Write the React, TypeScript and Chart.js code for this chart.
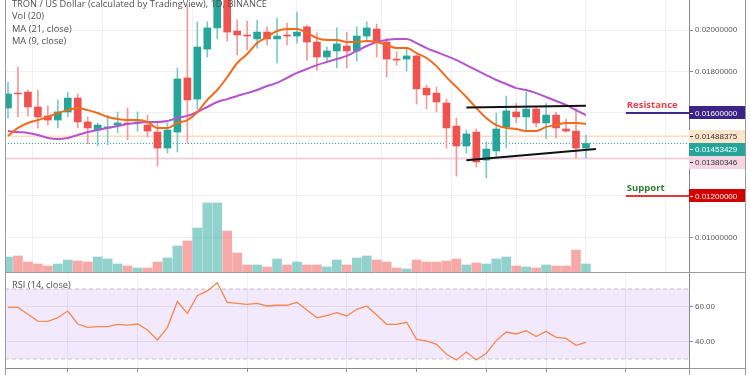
import { useEffect, useRef } from 'react';
import { Chart, registerables } from 'chart.js';
Chart.register(...registerables);

// ---- data (TRX/USD daily) ----
const open = [
  0.01624, 0.01696, 0.01701, 0.01629, 0.01586, 0.01566, 0.01605, 0.01672, 0.01557, 0.01518,
  0.01528, 0.01542, 0.01552, 0.01552, 0.01542, 0.01508, 0.01431, 0.01508, 0.01769, 0.01667,
  0.01908, 0.0201, 0.0216, 0.01995, 0.01976, 0.01957, 0.0199, 0.01957, 0.01976, 0.01971,
  0.02015, 0.01942, 0.0187, 0.01899, 0.01923, 0.01899, 0.01971, 0.02005, 0.01942, 0.0186,
  0.0186, 0.01875, 0.0172, 0.01696, 0.01648, 0.01537, 0.01441, 0.01508, 0.01373, 0.01417,
  0.01533, 0.01605, 0.01581, 0.01619, 0.01552, 0.0159, 0.01523, 0.01513, 0.01431,
];
const high = [
  0.01749, 0.01821, 0.01711, 0.01711, 0.01634, 0.01663, 0.01701, 0.01692, 0.01581, 0.01552,
  0.0159, 0.01605, 0.01624, 0.01605, 0.0159, 0.01557, 0.01552, 0.01817, 0.02121, 0.02039,
  0.0204, 0.0222, 0.0219, 0.02048, 0.02043, 0.02048, 0.02015, 0.02058, 0.02034, 0.02087,
  0.02024, 0.01986, 0.01918, 0.0201, 0.0199, 0.02015, 0.02039, 0.02029, 0.01961, 0.01894,
  0.01918, 0.0188, 0.01735, 0.01725, 0.01667, 0.01576, 0.01518, 0.01523, 0.0146, 0.016,
  0.01682, 0.01648, 0.01701, 0.01629, 0.01648, 0.01605, 0.01571, 0.01624, 0.01494,
];
const low = [
  0.01576, 0.01581, 0.01586, 0.01528, 0.01542, 0.01528, 0.01581, 0.01528, 0.01451, 0.01441,
  0.01446, 0.01504, 0.0147, 0.01513, 0.01484, 0.01344, 0.01407, 0.01412, 0.01455, 0.01619,
  0.0187, 0.01957, 0.01947, 0.0188, 0.01904, 0.01913, 0.01928, 0.01841, 0.01928, 0.01937,
  0.01855, 0.01807, 0.0185, 0.01817, 0.01817, 0.0185, 0.01942, 0.0187, 0.01773, 0.01831,
  0.01802, 0.01643, 0.01619, 0.01605, 0.01431, 0.01296, 0.01407, 0.0134, 0.01287, 0.01388,
  0.01431, 0.01552, 0.01518, 0.01533, 0.01475, 0.0148, 0.01508, 0.01383, 0.01383,
];
const close = [
  0.01692, 0.01692, 0.01629, 0.01581, 0.01566, 0.01605, 0.01672, 0.01557, 0.01528, 0.01542,
  0.01533, 0.01552, 0.01547, 0.01557, 0.01513, 0.01431, 0.01518, 0.01764, 0.01663, 0.01918,
  0.0201, 0.0216, 0.0199, 0.01976, 0.01971, 0.0199, 0.01957, 0.01971, 0.01971, 0.0199,
  0.01942, 0.0187, 0.01899, 0.01933, 0.01899, 0.01971, 0.0201, 0.01942, 0.0186, 0.01855,
  0.01875, 0.01716, 0.01687, 0.01653, 0.01528, 0.01441, 0.01499, 0.01364, 0.01426, 0.01523,
  0.0161, 0.01581, 0.01619, 0.01552, 0.0159, 0.01528, 0.01513, 0.01431, 0.01453,
];
const volumeM = [
  375, 400, 250, 200, 150, 200, 300, 275, 250, 375,
  325, 200, 150, 100, 100, 250, 350, 650, 775, 1100,
  1725, 1725, 1025, 475, 175, 175, 125, 325, 175, 250,
  175, 175, 125, 300, 175, 350, 400, 300, 250, 100,
  75, 300, 250, 250, 275, 325, 175, 225, 200, 325,
  375, 150, 125, 100, 175, 150, 150, 550, 200,
];
const ma9 = [
  0.01489, 0.01528, 0.01552, 0.01566, 0.01581, 0.016, 0.01614, 0.01624, 0.01614, 0.016,
  0.01581, 0.01571, 0.01566, 0.01566, 0.01557, 0.01528, 0.01528, 0.01552, 0.01566, 0.01605,
  0.01663, 0.01711, 0.01773, 0.01841, 0.01884, 0.01937, 0.01966, 0.01995, 0.02005, 0.02005,
  0.01986, 0.01961, 0.01952, 0.01952, 0.01942, 0.01942, 0.01947, 0.01942, 0.01928, 0.01913,
  0.01913, 0.01889, 0.01865, 0.01826, 0.01773, 0.01725, 0.01677, 0.01624, 0.01576, 0.01542,
  0.01528, 0.01523, 0.01513, 0.01513, 0.01533, 0.01542, 0.01552, 0.01552, 0.01547,
];
const ma21 = [
  0.01513, 0.01508, 0.01504, 0.01494, 0.0148, 0.01475, 0.0148, 0.01494, 0.01508, 0.01518,
  0.01528, 0.01537, 0.01547, 0.01552, 0.01557, 0.01557, 0.01561, 0.01576, 0.01586, 0.01605,
  0.01629, 0.01653, 0.01667, 0.01682, 0.01696, 0.01711, 0.0173, 0.01745, 0.01769, 0.01793,
  0.01812, 0.01831, 0.01846, 0.0186, 0.01875, 0.01899, 0.01923, 0.01942, 0.01952, 0.01957,
  0.01957, 0.01937, 0.01913, 0.01894, 0.01875, 0.01855, 0.01831, 0.01807, 0.01783, 0.01759,
  0.0174, 0.0172, 0.01711, 0.01696, 0.01677, 0.01658, 0.01639, 0.01614, 0.0159,
];
const rsi14 = [
  59.5, 59.5, 55.6, 51.7, 51.5, 53.6, 57.4, 50.0, 48.1, 48.5,
  48.5, 49.8, 49.4, 50.0, 46.6, 40.9, 48.1, 62.8, 56.1, 66.2,
  68.9, 73.6, 62.4, 61.8, 61.2, 61.8, 60.3, 60.7, 60.7, 62.4,
  58.0, 53.6, 54.8, 56.5, 54.6, 58.4, 60.3, 55.1, 49.8, 49.8,
  51.0, 41.2, 40.3, 38.4, 32.7, 29.4, 34.0, 29.4, 33.3, 40.5,
  45.4, 44.3, 46.2, 42.8, 45.8, 42.4, 41.8, 37.8, 39.5,
];
const gridDays = [7, 14, 25, 35, 42, 49, 55, 63];
const priceTicks = [0.01, 0.012, 0.016, 0.018, 0.02];
const rsiTicks = [40, 60];
const rsiBand = [70, 30];
const resistance = 0.016;
const support = 0.012;
const levelHigh = 0.01488375;
const lastPrice = 0.01453429;
const levelLow = 0.01380346;
const trendUpper = [[47, 0.01626], [59, 0.01635]];
const trendLower = [[47, 0.01372], [60, 0.01426]];
const levelStart = 63;
const xMin = 0.7;
const xMax = 69.34;
const priceMin = 0.0083362;
const priceMax = 0.0214466;
const volMax = 6800;
const rsiMin = 24.86;
const rsiMax = 79.14;

// ---- styling ----
const UP = '#26a69a';
const DOWN = '#ef5350';
const GRID = '#edf1f5';
const AXIS = '#8a8a8a';
const LABEL_FONT = { family: 'Liberation Sans', size: 8 };
const TEXT_FONT = '9.3px "Open Sans"';

const xs = close.map((_, i) => i + 1);
const isUp = close.map((c, i) => c >= open[i]);
const hLine = (y: number, x0 = xMin, x1 = xMax) => [{ x: x0, y }, { x: x1, y }];

function xAxis(height: number, tickLen: number, border: boolean) {
  return {
    type: 'linear',
    min: xMin,
    max: xMax,
    offset: false,
    afterBuildTicks: (s: any) => { s.ticks = gridDays.map((v) => ({ value: v })); },
    afterFit: (s: any) => { s.height = height; s.paddingLeft = 0; s.paddingRight = 0; },
    ticks: { display: false },
    grid: { color: GRID, drawTicks: tickLen > 0, tickLength: tickLen, tickColor: AXIS },
    border: { display: border, color: AXIS },
  };
}

const framePlugin = (isTop: boolean) => ({
  id: 'frame' + (isTop ? 'A' : 'B'),
  afterDraw(chart: any) {
    const ctx = chart.ctx;
    const H = chart.height;
    ctx.save();
    ctx.strokeStyle = '#9a9a9a';
    ctx.lineWidth = 1;
    ctx.beginPath();
    ctx.moveTo(5.5, 0); ctx.lineTo(5.5, H);
    ctx.moveTo(745.5, 0); ctx.lineTo(745.5, H);
    if (!isTop) {
      ctx.moveTo(5, 0.5); ctx.lineTo(746, 0.5);
      const b = chart.chartArea.bottom;
      ctx.moveTo(689.5, b); ctx.lineTo(689.5, H);
      ctx.moveTo(689, b + 0.5); ctx.lineTo(746, b + 0.5);
    }
    ctx.stroke();
    ctx.restore();
  },
});

const textPluginA = {
  id: 'textA',
  afterDraw(chart: any) {
    const ctx = chart.ctx;
    const ys = chart.scales.y;
    const xsS = chart.scales.x;
    ctx.save();
    ctx.textBaseline = 'middle';
    ctx.textAlign = 'left';
    ctx.font = TEXT_FONT;
    ctx.fillStyle = '#505050';
    ctx.fillText('TRON / US Dollar (calculated by TradingView), 1D, BINANCE', 12, 4);
    ctx.fillText('Vol (20)', 12, 16.5);
    ctx.fillText('MA (21, close)', 12, 29);
    ctx.fillText('MA (9, close)', 12, 41.5);

    const lx = xsS.getPixelForValue(levelStart) + 1;
    ctx.font = 'bold 9.5px "Open Sans"';
    ctx.fillStyle = '#e3424a';
    ctx.fillText('Resistance', lx, ys.getPixelForValue(resistance) - 8);
    ctx.fillStyle = '#2e7d32';
    ctx.fillText('Support', lx, ys.getPixelForValue(support) - 8);

    // price labels on the axis
    const boxes = [
      { v: resistance, bg: '#3b2485', fg: '#ffffff' },
      { v: levelHigh, bg: '#fde4cc', fg: '#333333' },
      { v: lastPrice, bg: UP, fg: '#ffffff' },
      { v: levelLow, bg: '#f3d6e2', fg: '#333333' },
      { v: support, bg: '#d50000', fg: '#ffffff' },
    ];
    let prev = -100;
    ctx.font = `${LABEL_FONT.size}px "${LABEL_FONT.family}"`;
    boxes.forEach((b) => {
      let y = ys.getPixelForValue(b.v);
      if (y < prev + 13) y = prev + 13;
      prev = y;
      ctx.fillStyle = b.bg;
      ctx.fillRect(689, Math.round(y - 6.5), 56, 13);
      ctx.strokeStyle = b.fg;
      ctx.beginPath();
      ctx.moveTo(690, Math.round(y) + 0.5);
      ctx.lineTo(693, Math.round(y) + 0.5);
      ctx.stroke();
      ctx.fillStyle = b.fg;
      ctx.fillText(b.v.toFixed(8), 695, y + 0.5);
    });
    ctx.restore();
  },
};

const textPluginB = {
  id: 'textB',
  afterDraw(chart: any) {
    const ctx = chart.ctx;
    ctx.save();
    ctx.textBaseline = 'middle';
    ctx.font = TEXT_FONT;
    ctx.fillStyle = '#505050';
    ctx.fillText('RSI (14, close)', 12, 13.7);
    ctx.restore();
  },
};

export default function App() {
  const refA = useRef<HTMLCanvasElement>(null);
  const refB = useRef<HTMLCanvasElement>(null);

  useEffect(() => {
    document.body.style.margin = '0';
    const lineBase = { type: 'line', pointRadius: 0, fill: false, yAxisID: 'y' };
    const chartA = new Chart(refA.current as HTMLCanvasElement, {
      type: 'bar',
      data: {
        datasets: [
          {
            type: 'bar', label: 'Volume', yAxisID: 'vol', order: 10, grouped: false, barThickness: 9,
            data: xs.map((x, i) => ({ x, y: volumeM[i] })),
            backgroundColor: isUp.map((u) => (u ? 'rgba(38,166,154,0.5)' : 'rgba(239,83,80,0.5)')),
          },
          { ...lineBase, label: 'L1', order: 9, data: hLine(levelHigh), borderColor: '#fcdcbd', borderWidth: 1.5 },
          { ...lineBase, label: 'L2', order: 9, data: hLine(lastPrice), borderColor: UP, borderWidth: 1, borderDash: [1, 2] },
          { ...lineBase, label: 'L3', order: 9, data: hLine(levelLow), borderColor: '#f1d3df', borderWidth: 2 },
          {
            type: 'bar', label: 'Wick', yAxisID: 'y', order: 7, grouped: false, barThickness: 1,
            data: xs.map((x, i) => ({ x, y: [low[i], high[i]] })),
            backgroundColor: isUp.map((u) => (u ? '#7ccbc3' : '#f39a98')),
          },
          {
            type: 'bar', label: 'Body', yAxisID: 'y', order: 6, grouped: false, barThickness: 7,
            data: xs.map((x, i) => ({ x, y: [open[i], close[i]] })),
            backgroundColor: isUp.map((u) => (u ? UP : DOWN)),
          },
          { ...lineBase, label: 'MA (21, close)', order: 4, data: xs.map((x, i) => ({ x, y: ma21[i] })), borderColor: '#b554cf', borderWidth: 2, cubicInterpolationMode: 'monotone' },
          { ...lineBase, label: 'MA (9, close)', order: 3, data: xs.map((x, i) => ({ x, y: ma9[i] })), borderColor: '#f26a1b', borderWidth: 2, cubicInterpolationMode: 'monotone' },
          { ...lineBase, label: 'T1', order: 2, data: trendUpper.map(([x, y]) => ({ x, y })), borderColor: '#111111', borderWidth: 2 },
          { ...lineBase, label: 'T2', order: 2, data: trendLower.map(([x, y]) => ({ x, y })), borderColor: '#111111', borderWidth: 2 },
          { ...lineBase, label: 'Resistance', order: 1, data: hLine(resistance, levelStart, xMax), borderColor: '#3f2a86', borderWidth: 2 },
          { ...lineBase, label: 'Support', order: 1, data: hLine(support, levelStart, xMax), borderColor: '#e53935', borderWidth: 2 },
        ] as any,
      },
      options: {
        responsive: false,
        animation: false,
        devicePixelRatio: 1,
        events: [],
        layout: { padding: { left: 5, top: 0, right: 0, bottom: 0 } },
        plugins: { legend: { display: false }, tooltip: { enabled: false } },
        scales: {
          x: xAxis(0, 0, false) as any,
          y: {
            type: 'linear', position: 'right', min: priceMin, max: priceMax,
            afterBuildTicks: (s: any) => { s.ticks = priceTicks.map((v) => ({ value: v })); },
            afterFit: (s: any) => { s.width = 61; s.paddingTop = 0; s.paddingBottom = 0; },
            ticks: {
              callback: (v: any) => (v === resistance || v === support ? '' : Number(v).toFixed(8)),
              font: LABEL_FONT, color: '#555555', padding: 2,
            },
            grid: { color: GRID, tickLength: 4, tickColor: AXIS },
            border: { color: AXIS },
          } as any,
          vol: { display: false, min: 0, max: volMax } as any,
        },
      },
      plugins: [framePlugin(true), textPluginA],
    });

    const chartB = new Chart(refB.current as HTMLCanvasElement, {
      type: 'line',
      data: {
        datasets: [
          { label: 'U', order: 5, data: hLine(rsiBand[0]), borderColor: '#c4c4c4', borderDash: [4, 3], borderWidth: 1, pointRadius: 0, fill: false },
          { label: 'D', order: 4, data: hLine(rsiBand[1]), borderColor: '#c4c4c4', borderDash: [4, 3], borderWidth: 1, pointRadius: 0, fill: '-1', backgroundColor: 'rgba(149,76,233,0.12)' },
          { label: 'RSI (14, close)', order: 1, data: xs.map((x, i) => ({ x, y: rsi14[i] })), borderColor: '#f5874d', borderWidth: 1.3, pointRadius: 0, fill: false },
        ] as any,
      },
      options: {
        responsive: false,
        animation: false,
        devicePixelRatio: 1,
        events: [],
        layout: { padding: { left: 5, top: 1, right: 0, bottom: 0 } },
        plugins: { legend: { display: false }, tooltip: { enabled: false } },
        scales: {
          x: xAxis(7, 4, true) as any,
          y: {
            type: 'linear', position: 'right', min: rsiMin, max: rsiMax,
            afterBuildTicks: (s: any) => { s.ticks = rsiTicks.map((v) => ({ value: v })); },
            afterFit: (s: any) => { s.width = 61; s.paddingTop = 0; s.paddingBottom = 0; },
            ticks: { callback: (v: any) => Number(v).toFixed(2), font: LABEL_FONT, color: '#555555', padding: 2 },
            grid: { color: 'rgba(120,100,170,0.13)', tickLength: 4, tickColor: AXIS },
            border: { color: AXIS },
          } as any,
        },
      },
      plugins: [framePlugin(false), textPluginB],
    });

    return () => { chartA.destroy(); chartB.destroy(); };
  }, []);

  return (
    <div style={{ position: 'relative', width: 750, height: 375, background: '#ffffff', overflow: 'hidden' }}>
      <canvas ref={refA} width={750} height={272} style={{ position: 'absolute', left: 0, top: 0 }} />
      <canvas ref={refB} width={750} height={103} style={{ position: 'absolute', left: 0, top: 272 }} />
    </div>
  );
}
